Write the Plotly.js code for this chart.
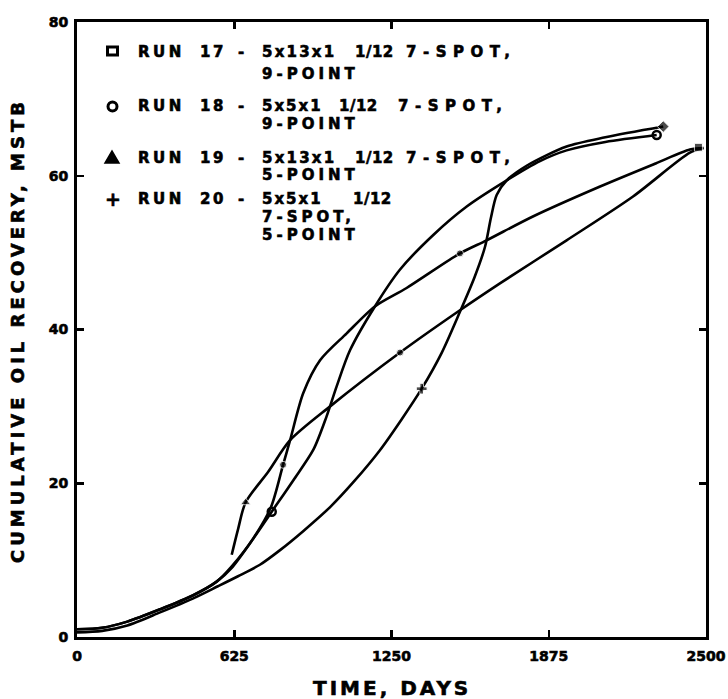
<!DOCTYPE html>
<html><head><meta charset="utf-8">
<script src="https://cdn.plot.ly/plotly-3.0.1.min.js"></script>
<style>html,body{margin:0;padding:0;background:#fff}#chart{width:728px;height:699px}
#chart text{stroke:#000;stroke-width:0.6px;paint-order:stroke}</style>
</head><body><div id="chart"></div><script>
// ---- data ----
const run17Days = [0,100,200,330,460,555,615,700,771,819,847,899,966,1072,1184,1310,1522,1628,1812,2079,2300,2436,2490];
const run17Rec  = [1.0,1.2,2.0,3.6,5.4,7.2,9.2,12.8,16.9,22.4,25.6,31.7,36.0,39.5,43.0,45.4,49.9,51.6,54.7,58.6,61.6,63.4,63.6];
const run18Days = [0,100,200,330,460,555,615,690,774,860,940,992,1032,1085,1184,1284,1416,1549,1708,1840,1946,2100,2304];
const run18Rec  = [1.0,1.2,2.0,3.6,5.4,7.2,9.0,12.3,16.3,20.4,24.4,28.7,32.6,37.3,43.0,47.8,52.3,56.0,59.4,61.9,63.3,64.4,65.3];
const run19Days = [615,640,670,760,847,1006,1284,1522,1681,1946,2210,2436,2490];
const run19Rec  = [10.7,14.0,17.5,21.5,25.6,30.0,37.0,42.5,46.0,51.6,57.3,63.0,63.6];
const run20Days = [0,100,200,330,460,560,640,727,807,900,1006,1100,1204,1290,1370,1450,1522,1580,1622,1645,1668,1708,1787,1946,2100,2330];
const run20Rec  = [0.6,0.8,1.5,3.2,5.0,6.6,7.9,9.4,11.3,13.8,16.9,20.2,24.3,28.3,32.3,37.0,42.3,46.8,50.8,54.5,57.5,59.4,61.3,63.8,65.0,66.4];

// plotted symbols on the curves
const run17MarkDays = [819,1522,2470];
const run17MarkRec  = [22.4,49.9,63.7];
const run18MarkDays = [774,2304];
const run18MarkRec  = [16.3,65.3];
const run19MarkDays = [670,1284];
const run19MarkRec  = [17.5,37.0];
const run20MarkDays = [1370,2330];
const run20MarkRec  = [32.3,66.4];

const xTickVals = [0,625,1250,1875,2500];
const xTickText = ["0","625","1250","1875","2500"];
const yTickVals = [0,20,40,60,80];
const yTickText = ["0","20","40","60","80"];
const xTitleText = "TIME, DAYS";
const yTitleText = "CUMULATIVE OIL RECOVERY, MSTB";

const legendRunWord = ["RUN","RUN","RUN","RUN"];
const legendRunNumbers = ["17","18","19","20"];
const legendGrids = ["5x13x1","5x5x1","5x13x1","5x5x1"];
const legendFractions = ["1/12","1/12","1/12","1/12"];
const legendPatterns = ["7-SPOT,","7-SPOT,","7-SPOT,",""];
const legendContinuations = [["9-POINT"],["9-POINT"],["5-POINT"],["7-SPOT,","5-POINT"]];

// ---- layout (pixel geometry) ----
const W = 728, H = 699, PL = 77, PR = 706, PT = 22, PB = 637;
const px = x => (x - PL) / (PR - PL);
const py = y => (PB - y) / (PB - PT);
const FONT = "DejaVu Sans";
const LF = 15;
const rowY = [51.5, 106, 157.5, 198.5];
const contY = [[74.5],[123.5],[175],[216.5,234.5]];
const runX = 137, numX = 199, dashX = 237, gridX = 261, contX = 261;
const fracX = [354, 338, 354, 352];
const patX = [405, 397, 405, 0];

const lineStyle = {color:'#000', width:2.6, shape:'spline', smoothing:0.8};
const traces = [
  {x:run17Days, y:run17Rec, mode:'lines', line:lineStyle, name:'RUN 17'},
  {x:run18Days, y:run18Rec, mode:'lines', line:lineStyle, name:'RUN 18'},
  {x:run19Days, y:run19Rec, mode:'lines', line:lineStyle, name:'RUN 19'},
  {x:run20Days, y:run20Rec, mode:'lines', line:lineStyle, name:'RUN 20'},
  {x:run17MarkDays, y:run17MarkRec, mode:'markers', cliponaxis:false,
   marker:{symbol:['circle','circle','square'], size:[7,7,8], color:'#000'}},
  {x:run18MarkDays, y:run18MarkRec, mode:'markers', cliponaxis:false,
   marker:{symbol:'circle-open', size:8, color:'#000', line:{width:2.5,color:'#000'}}},
  {x:run19MarkDays, y:run19MarkRec, mode:'markers', cliponaxis:false,
   marker:{symbol:['triangle-up','circle'], size:[9,7], color:'#000'}},
  {x:run20MarkDays, y:run20MarkRec, mode:'markers', cliponaxis:false,
   marker:{symbol:['cross','diamond'], size:[9,9], color:'#000'}}
];

const sp = (t, ls) => '<b><span style="letter-spacing:' + ls + 'px">' + t + '</span></b>';
const ann = [];
function addText(t, x, y, size, ls) {
  ann.push({text: sp(t, ls), xref:'paper', yref:'paper', x:px(x), y:py(y),
    xanchor:'left', yanchor:'middle', showarrow:false, borderpad:0,
    font:{family:FONT, size:size, color:'#000'}});
}
for (let i = 0; i < 4; i++) {
  addText(legendRunWord[i], runX, rowY[i], LF, 3.5);
  addText(legendRunNumbers[i], numX, rowY[i], LF, 2.5);
  addText('-', dashX, rowY[i], LF, 0);
  addText(legendGrids[i], gridX, rowY[i], LF, legendGrids[i].length > 5 ? 2.2 : 2.0);
  addText(legendFractions[i], fracX[i], rowY[i], LF, 0.5);
  if (legendPatterns[i]) addText(legendPatterns[i], patX[i], rowY[i], LF, 6.5);
  legendContinuations[i].forEach((t, k) => addText(t, contX, contY[i][k], LF, 4));
}
// plus symbol for RUN 20
ann.push({text:'<b>+</b>', xref:'paper', yref:'paper', x:px(112.5), y:py(198.5), xanchor:'center', yanchor:'middle',
  showarrow:false, font:{family:FONT, size:19, color:'#000'}});
// axis titles
ann.push({text: sp(xTitleText, 3), xref:'paper', yref:'paper', x:px(392), y:py(688),
  xanchor:'center', yanchor:'middle', showarrow:false,
  font:{family:FONT, size:20, color:'#000'}});
ann.push({text: sp(yTitleText, 4), xref:'paper', yref:'paper', x:px(17), y:py(331),
  xanchor:'center', yanchor:'middle', textangle:-90, showarrow:false,
  font:{family:FONT, size:18, color:'#000'}});

const shapes = [
  {type:'rect', xref:'paper', yref:'paper', x0:px(107.5), x1:px(117.5), y0:py(55), y1:py(47),
   line:{color:'#000', width:3}},
  {type:'circle', xref:'paper', yref:'paper', x0:px(108), x1:px(117), y0:py(111), y1:py(102),
   line:{color:'#000', width:3}},
  {type:'path', xref:'paper', yref:'paper',
   path:'M '+px(105)+' '+py(163)+' L '+px(119)+' '+py(163)+' L '+px(112)+' '+py(151)+' Z',
   fillcolor:'#000', line:{color:'#000', width:1.5}}
];

const axisCommon = {showline:true, linewidth:3, linecolor:'#000', mirror:'ticks',
  ticks:'inside', ticklen:7, tickwidth:2.5, tickcolor:'#000', showgrid:false, zeroline:false,
  tickfont:{family:FONT, size:14, color:'#000'}, fixedrange:true};
const bold = a => a.map(t => '<b>' + t + '</b>');

const layout = {
  width:W, height:H, paper_bgcolor:'#fff', plot_bgcolor:'#fff', showlegend:false,
  margin:{l:PL, r:W-PR, t:PT, b:H-PB},
  xaxis:Object.assign({}, axisCommon, {range:[0,2500], tickmode:'array', tickvals:xTickVals, ticktext:bold(xTickText), ticklabelstandoff:4}),
  yaxis:Object.assign({}, axisCommon, {range:[0,80], tickmode:'array', tickvals:yTickVals, ticktext:bold(yTickText), ticklabelstandoff:3}),
  annotations:ann, shapes:shapes
};
Plotly.newPlot('chart', traces, layout, {displayModeBar:false, staticPlot:true});
</script></body></html>
